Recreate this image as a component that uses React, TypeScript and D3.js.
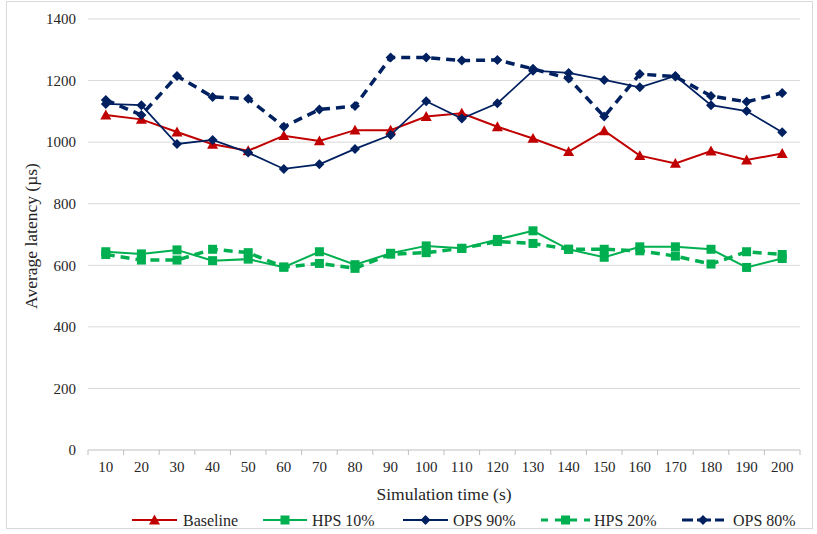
import React from "react";
import * as d3 from "d3";

const categories = ["10","20","30","40","50","60","70","80","90","100","110","120","130","140","150","160","170","180","190","200"];
const baseline = [1088,1074,1033,993,972,1021,1004,1039,1039,1083,1094,1050,1012,969,1037,956,931,971,942,963];
const hps10 = [644,637,650,615,620,594,644,602,639,663,655,684,712,652,626,660,660,652,593,622];
const ops90 = [1124,1120,994,1007,966,913,928,978,1023,1133,1077,1126,1232,1225,1202,1178,1215,1120,1101,1032];
const hps20 = [635,617,617,652,641,594,606,590,636,641,655,677,671,652,652,647,630,604,644,635];
const ops80 = [1137,1088,1215,1147,1141,1050,1106,1117,1275,1275,1265,1267,1238,1207,1083,1221,1213,1150,1131,1160];
const yTicks = [0,200,400,600,800,1000,1200,1400];

const seriesList = [
  { name: "Baseline", values: baseline, color: "#C00000", dash: "", width: 2, marker: "triangle", legDash: "" },
  { name: "HPS 10%", values: hps10, color: "#00B050", dash: "", width: 2, marker: "square", legDash: "" },
  { name: "OPS 90%", values: ops90, color: "#002060", dash: "", width: 1.75, marker: "diamond", legDash: "" },
  { name: "HPS 20%", values: hps20, color: "#00B050", dash: "9,6", width: 3.5, marker: "square", legDash: "7,7,22,7" },
  { name: "OPS 80%", values: ops80, color: "#002060", dash: "9,6", width: 3.5, marker: "diamond", legDash: "11,4,14,4" },
];

const W = 817, H = 534;
const left = 88, right = 800, top = 19, bottom = 450;
const FONT = "Liberation Serif, Times New Roman, DejaVu Serif, serif";
const TXT = "#262626";

function Marker({ type, x, y, color }: { type: string; x: number; y: number; color: string }) {
  if (type === "triangle") {
    const s = 5.5;
    return <path d={`M${x},${y - s}L${x + s},${y + s * 0.8}L${x - s},${y + s * 0.8}Z`} fill={color} />;
  }
  if (type === "square") {
    const s = 4.5;
    return <rect x={x - s} y={y - s} width={2 * s} height={2 * s} fill={color} />;
  }
  const s = 5;
  return <path d={`M${x},${y - s}L${x + s},${y}L${x},${y + s}L${x - s},${y}Z`} fill={color} />;
}

export default function App() {
  const x = d3.scaleBand<string>().domain(categories).range([left, right]);
  const cx = (c: string) => (x(c) as number) + x.bandwidth() / 2;
  const y = d3.scaleLinear().domain([0, 1400]).range([bottom, top]);
  const line = d3.line<number>().x((_, i) => cx(categories[i])).y((v) => y(v));

  const legendItems = [
    { lx: 132, lw: 45, tx: 183 },
    { lx: 263, lw: 44, tx: 312 },
    { lx: 403, lw: 45, tx: 453 },
    { lx: 541, lw: 49, tx: 594 },
    { lx: 682, lw: 42, tx: 733 },
  ];
  const legendY = 520;

  return (
    <svg width={W} height={H} style={{ position: "absolute", left: 0, top: 0, background: "#fff", fontFamily: FONT }}>
      <rect x={6.5} y={1.5} width={806} height={527} fill="#fff" stroke="#D9D9D9" />
      {yTicks.map((t) => (
        <g key={t}>
          {t > 0 && <line x1={left} x2={right} y1={y(t)} y2={y(t)} stroke="#D9D9D9" strokeWidth={1} />}
          <text x={76} y={y(t)} dy="0.35em" textAnchor="end" fontSize={15} fill={TXT}>{t}</text>
        </g>
      ))}
      <line x1={left} x2={right} y1={bottom} y2={bottom} stroke="#BFBFBF" strokeWidth={1} />
      {categories.map((c, i) => (
        <line key={"t" + i} x1={x(c) as number} x2={x(c) as number} y1={bottom} y2={bottom + 5} stroke="#BFBFBF" />
      ))}
      <line x1={right} x2={right} y1={bottom} y2={bottom + 5} stroke="#BFBFBF" />
      {categories.map((c) => (
        <text key={"l" + c} x={cx(c)} y={467} dy="0.35em" textAnchor="middle" fontSize={15} fill={TXT}>{c}</text>
      ))}
      <text x={(left + right) / 2} y={494} dy="0.35em" textAnchor="middle" fontSize={17.5} fill={TXT}>Simulation time (s)</text>
      <text transform={`translate(31,${236}) rotate(-90)`} textAnchor="middle" dy="0.35em" fontSize={17.5} fill={TXT}>Average latency (µs)</text>

      {seriesList.map((s) => (
        <g key={s.name}>
          <path d={line(s.values) || ""} fill="none" stroke={s.color} strokeWidth={s.width} strokeDasharray={s.dash || undefined} />
          {s.values.map((v, i) => (
            <Marker key={i} type={s.marker} x={cx(categories[i])} y={y(v)} color={s.color} />
          ))}
        </g>
      ))}

      {seriesList.map((s, i) => {
        const it = legendItems[i];
        return (
          <g key={"lg" + s.name}>
            <line x1={it.lx} x2={it.lx + it.lw} y1={legendY} y2={legendY} stroke={s.color} strokeWidth={s.dash ? 3 : 2} strokeDasharray={s.legDash || undefined} />
            <Marker type={s.marker} x={it.lx + it.lw / 2} y={legendY} color={s.color} />
            <text x={it.tx} y={legendY} dy="0.35em" fontSize={16} fill={TXT}>{s.name}</text>
          </g>
        );
      })}
    </svg>
  );
}
